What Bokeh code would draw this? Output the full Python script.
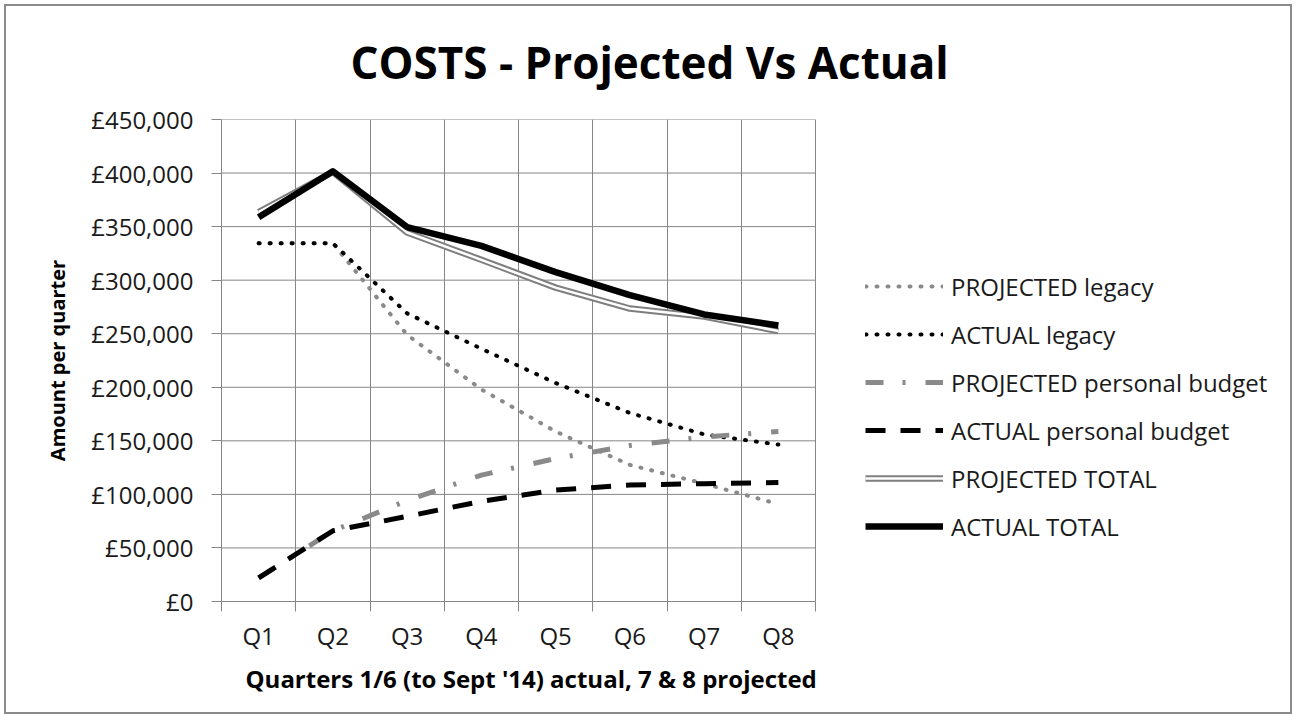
from bokeh.plotting import figure
from bokeh.models import FixedTicker, Legend, LegendItem, Range1d, Title
from bokeh.embed import file_html
from bokeh.resources import INLINE

# ---- data ----
quarters = ["Q1", "Q2", "Q3", "Q4", "Q5", "Q6", "Q7", "Q8"]
projected_legacy = [334500, 334500, 249000, 198000, 158700, 127500, 110000, 91000]
actual_legacy = [334500, 334500, 269000, 236000, 204000, 176000, 156000, 146500]
projected_personal_budget = [22000, 66000, 94300, 118000, 133500, 145600, 153600, 158700]
actual_personal_budget = [22000, 66000, 79500, 93500, 104000, 108800, 110000, 111000]
projected_total = [363500, 401000, 344500, 319000, 293000, 273500, 266000, 252500]
actual_total = [358800, 401700, 349500, 332000, 307500, 286000, 268000, 257700]

y_ticks = [0, 50000, 100000, 150000, 200000, 250000, 300000, 350000, 400000, 450000]
y_tick_labels = ["£0", "£50,000", "£100,000", "£150,000", "£200,000", "£250,000",
                 "£300,000", "£350,000", "£400,000", "£450,000"]

series_labels = ["PROJECTED legacy", "ACTUAL legacy", "PROJECTED personal budget",
                 "ACTUAL personal budget", "PROJECTED TOTAL", "ACTUAL TOTAL"]

title_text = "COSTS - Projected Vs Actual"
x_title = "Quarters 1/6 (to Sept '14) actual, 7 & 8 projected"
y_title = "Amount per quarter"

# ---- layout / styles ----
GRID = "#868686"
GRAY = "#8a8a8a"
FONT = "Open Sans"
W, H = 1296, 718
FRAME_L, FRAME_T, FRAME_B = 221, 119, 601
PLOT_R = 815          # right edge of the drawn plot area
FRAME_R = 1284        # frame extends under the legend

n = len(quarters)
xs = [i + 0.5 for i in range(n)]
bounds = list(range(n + 1))
x_end = n * (FRAME_R - FRAME_L) / (PLOT_R - FRAME_L)

p = figure(width=W, height=H,
           x_range=Range1d(0, x_end), y_range=Range1d(y_ticks[0], y_ticks[-1]),
           output_backend="svg", toolbar_location=None,
           min_border_left=FRAME_L, min_border_right=W - FRAME_R,
           min_border_top=FRAME_T, min_border_bottom=H - FRAME_B)
p.background_fill_color = None
p.border_fill_color = None
p.outline_line_color = None
p.styles = {"outline": "2px solid #8a8a8a", "outline-offset": "-6px"}

# title
p.title.text = title_text
p.title.text_font = FONT
p.title.text_font_size = "44px"
p.title.text_font_style = "bold"
p.title.text_color = "black"
p.title.align = "left"
p.title.offset = 129
p.title.standoff = 56

# x axis
p.xaxis.bounds = (0, n)
p.xaxis.ticker = FixedTicker(ticks=xs, minor_ticks=bounds)
p.xaxis.major_label_overrides = {x: q for x, q in zip(xs, quarters)}
p.xaxis.major_tick_out = 0
p.xaxis.major_tick_in = 0
p.xaxis.minor_tick_out = 10
p.xaxis.minor_tick_in = 0
p.xaxis.minor_tick_line_color = GRID
p.xaxis.axis_line_color = GRID
p.xaxis.major_label_standoff = 7
p.xaxis.major_label_text_font = FONT
p.xaxis.major_label_text_font_size = "24px"
p.xaxis.major_label_text_color = "#1a1a1a"

# x axis title, centred under the plot area
x_title_model = Title(text=x_title, align="left", offset=24, standoff=10,
                      text_font=FONT, text_font_size="24px",
                      text_font_style="bold", text_color="black")
p.add_layout(x_title_model, "below")

# y axis
p.yaxis.ticker = FixedTicker(ticks=y_ticks)
p.yaxis.major_label_overrides = {t: l for t, l in zip(y_ticks, y_tick_labels)}
p.yaxis.major_tick_out = 10
p.yaxis.major_tick_in = 0
p.yaxis.minor_tick_line_color = None
p.yaxis.major_tick_line_color = GRID
p.yaxis.axis_line_color = GRID
p.yaxis.major_label_standoff = 18
p.yaxis.major_label_text_font = FONT
p.yaxis.major_label_text_font_size = "24px"
p.yaxis.major_label_text_color = "#1a1a1a"
p.yaxis.axis_label = y_title
p.yaxis.axis_label_text_font = FONT
p.yaxis.axis_label_text_font_size = "20px"
p.yaxis.axis_label_text_font_style = "bold"
p.yaxis.axis_label_text_color = "black"
p.yaxis.axis_label_standoff = 17

# grids: vertical lines at quarter boundaries, horizontal lines only across the plot area
p.xgrid.ticker = FixedTicker(ticks=bounds)
p.xgrid.grid_line_color = GRID
p.xgrid.grid_line_width = 1
p.ygrid.grid_line_color = None
p.segment(x0=[0] * len(y_ticks), x1=[n] * len(y_ticks), y0=y_ticks, y1=y_ticks,
          line_color=GRID, line_width=1)

# series
r1 = p.line(xs, projected_legacy, line_color=GRAY, line_width=4,
            line_dash="1 10", line_cap="round")
r2 = p.line(xs, actual_legacy, line_color="black", line_width=4,
            line_dash="1 10", line_cap="round")
r3 = p.line(xs, projected_personal_budget, line_color=GRAY, line_width=5,
            line_dash="18 19 3 20")
r4 = p.line(xs, actual_personal_budget, line_color="black", line_width=5,
            line_dash="20 15")
r5a = p.line(xs, projected_total, line_color="#7f7f7f", line_width=6.5, line_join="round")
r5b = p.line(xs, projected_total, line_color="white", line_width=2.5, line_join="round")
r6 = p.line(xs, actual_total, line_color="black", line_width=6.5, line_join="round")

renderer_groups = [[r1], [r2], [r3], [r4], [r5a, r5b], [r6]]
legend = Legend(items=[LegendItem(label=lab, renderers=rs)
                       for lab, rs in zip(series_labels, renderer_groups)],
                location=(865 - FRAME_L, 58), padding=0, margin=0,
                glyph_width=78, glyph_height=34, label_standoff=8,
                spacing=14, label_height=34,
                label_text_font=FONT, label_text_font_size="24px",
                label_text_color="#1a1a1a",
                border_line_color=None, background_fill_alpha=0)
p.add_layout(legend)

open("out.html", "w").write(file_html(p, INLINE))
